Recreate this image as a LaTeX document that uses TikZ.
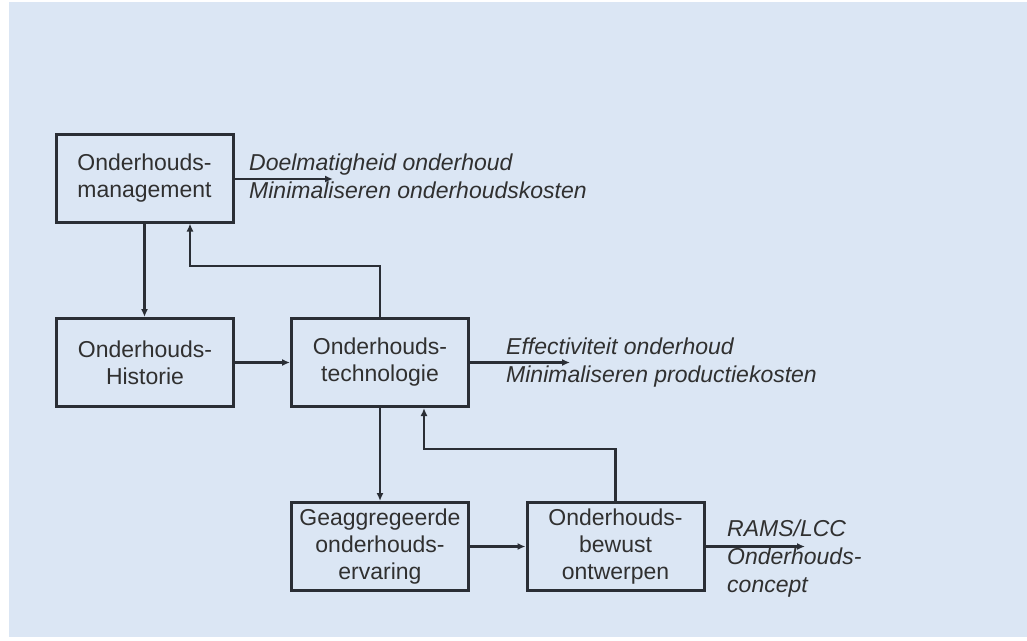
\documentclass[tikz,border=0pt]{standalone}
\usepackage{fontspec}
\setmainfont{Liberation Sans}
\usetikzlibrary{arrows.meta,calc}
\definecolor{bgblue}{HTML}{DBE6F4}
\definecolor{linecol}{HTML}{2A2E35}
\definecolor{txtcol}{HTML}{303030}
\begin{document}
\begin{tikzpicture}[x=1pt,y=-1pt,
  box/.style={draw=linecol, line width=3pt, minimum width=177pt, minimum height=88pt,
    inner sep=0pt, align=center, text=txtcol, font=\fontsize{23}{27}\selectfont},
  lbl/.style={anchor=west, align=left, inner sep=0pt, text=txtcol,
    font=\fontsize{23}{28}\selectfont\itshape},
  arr/.style={draw=linecol, line width=2.8pt, -{Latex[length=8pt,width=7pt]}},
  ln/.style={draw=linecol, line width=2.8pt}]
\useasboundingbox (0,0) rectangle (1027,640);
\fill[white] (0,0) rectangle (1027,640);
\fill[bgblue] (9,2) rectangle (1027,637);

\node[box] (b1) at (144.5,178) {Onderhouds-\\management};
\node[box] (b2) at (145,362.5) {Onderhouds-\\Historie};
\node[box] (b3) at (380,362.5) {Onderhouds-\\technologie};
\node[box] (b4) at (380,546.5) {Geaggregeerde\\onderhouds-\\ervaring};
\node[box] (b5) at (615.5,546.5) {Onderhouds-\\bewust\\ontwerpen};

\coordinate (o1) at (333,179);
\coordinate (o3) at (570,362.5);
\coordinate (o5) at (805,546.5);

\draw[arr] (b1.east |- o1) -- (o1);
\draw[arr] (b3.east) -- (o3);
\draw[arr] (b5.east) -- (o5);

\draw[arr] (b1.south) -- (b1.south |- b2.north);
\draw[arr] (b2.east) -- (b3.west);
\draw[arr] (b4.east) -- (b5.west);
\draw[arr] (b3.south) -- (b3.south |- b4.north);

\draw[arr] (b3.north) -- ++(0,-51) -| ([xshift=45.5pt]b1.south);
\draw[arr] (b5.north) -- ++(0,-52) -| ([xshift=44pt]b3.south);

\node[lbl] (l1) at (249,176) {Doelmatigheid onderhoud\\Minimaliseren onderhoudskosten};
\node[lbl] (l3) at (506,363) {Effectiviteit onderhoud\\Minimaliseren productiekosten};
\node[lbl] (l5) at (727,559) {RAMS/LCC\\Onderhouds-\\concept};
\end{tikzpicture}
\end{document}
